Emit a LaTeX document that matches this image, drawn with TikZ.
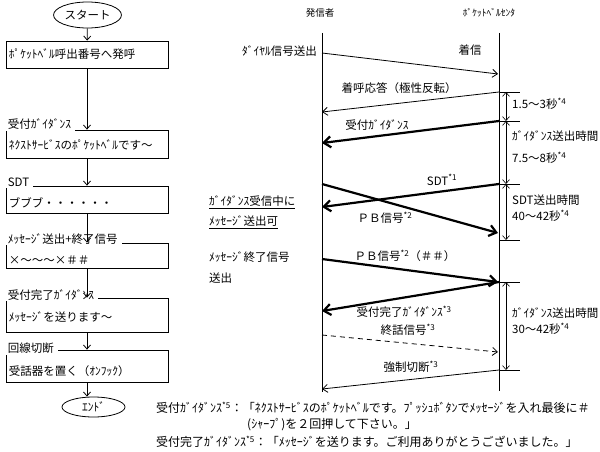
\documentclass[tikz,border=0pt]{standalone}
\usepackage{fontspec}
\setmainfont{Noto Sans CJK JP}
\usepackage{tikz}
\usetikzlibrary{arrows.meta,positioning,shapes.geometric,calc}

\newcommand{\fnref}[1]{\textsuperscript{*#1}}

\begin{document}
\begin{tikzpicture}[x=1pt, y=-1pt,
  every node/.style={font=\fontsize{11.5}{13}\selectfont, inner sep=1pt},
  fbox/.style={draw, line width=0.8pt, minimum width=162pt},
  ftitle/.style={anchor=west, fill=white, inner xsep=4pt, inner ysep=1.5pt},
  ftext/.style={anchor=west},
  ovalnode/.style={draw, ellipse, line width=0.8pt},
  flowarrow/.style={-{Straight Barb[length=4pt,width=7pt]}, line width=0.8pt},
  lifeline/.style={line width=0.8pt},
  msgthin/.style={-{Straight Barb[length=5pt,width=8pt]}, line width=0.8pt},
  msgthick/.style={-{Straight Barb[length=7pt,width=11pt]}, line width=2.2pt},
  tickline/.style={line width=0.8pt},
  spanarrow/.style={{Straight Barb[length=4pt,width=7pt]}-{Straight Barb[length=4pt,width=7pt]}, line width=0.6pt},
  notetext/.style={anchor=west, font=\fontsize{12}{14}\selectfont}]

\useasboundingbox (0,0) rectangle (600,452);

% --- Flowchart ---
\node[ovalnode, minimum width=61pt, minimum height=26pt] (start) at (87.5,15) {スタート};

\node[fbox, minimum height=27pt] (b1) at (87,54.5) {};
\node[ftext] (b1txt) at ([shift={(2,0)}]b1.west) {ﾎﾟｹｯﾄﾍﾞﾙ呼出番号へ発呼};

\node[fbox, minimum height=28pt] (b2) at (87,144) {};
\node[ftitle] (b2ttl) at ([shift={(-2,-5.5)}]b2.north west) {受付ｶﾞｲﾀﾞﾝｽ};
\node[ftext] (b2txt) at ([shift={(2,1)}]b2.west) {ﾈｸｽﾄｻｰﾋﾞｽのﾎﾟｹｯﾄﾍﾞﾙです～};

\node[fbox, minimum height=27pt] (b3) at (87,199.5) {};
\node[ftitle] (b3ttl) at ([shift={(-2,-3)}]b3.north west) {SDT};
\node[ftext] (b3txt) at ([shift={(2,3.5)}]b3.west) {ブブブ・・・・・・};

\node[fbox, minimum height=25pt] (b4) at (87,255.5) {};
\node[ftitle] (b4ttl) at ([shift={(-2,-4)}]b4.north west) {ﾒｯｾｰｼﾞ送出+終了信号};
\node[ftext] (b4txt) at ([shift={(2,4.5)}]b4.west) {×～～～×＃＃};

\node[fbox, minimum height=34pt] (b5) at (87,315) {};
\node[ftitle] (b5ttl) at ([shift={(-2,-3)}]b5.north west) {受付完了ｶﾞｲﾀﾞﾝｽ};
\node[ftext] (b5txt) at ([shift={(2,2)}]b5.west) {ﾒｯｾｰｼﾞを送ります～};

\node[fbox, minimum height=32pt] (b6) at (87,366) {};
\node[ftitle] (b6ttl) at ([shift={(-2,-1)}]b6.north west) {回線切断};
\node[ftext] (b6txt) at ([shift={(2,5)}]b6.west) {受話器を置く（ｵﾝﾌｯｸ）};

\node[ovalnode, minimum width=63pt, minimum height=20pt] (end) at (93.5,407) {ｴﾝﾄﾞ};

\draw[flowarrow] (start) -- (b1);
\draw[flowarrow] (b1) -- (b2);
\draw[flowarrow] (b2) -- (b3);
\draw[flowarrow] (b3) -- (b4);
\draw[flowarrow] (b4) -- (b5);
\draw[flowarrow] (b5) -- (b6);
\draw[flowarrow] (b6.south) -- (b6.south |- end.north);

% --- Sequence: lifelines ---
\node[font=\fontsize{9.5}{11}\selectfont] (caller) at (320,13) {発信者};
\node[font=\fontsize{9.5}{11}\selectfont] (centre) at (489,13) {ﾎﾟｹｯﾄﾍﾞﾙｾﾝﾀ};
\coordinate (L0) at (322,33);
\coordinate (L1) at (322,392);
\coordinate (R0) at (499,33);
\coordinate (R1) at (499,391);
\draw[lifeline] (L0) -- (L1);
\draw[lifeline] (R0) -- (R1);

% Timing marks on the centre side
\coordinate (t1) at (499,92);
\coordinate (t2) at (499,121);
\coordinate (t3) at (499,184);
\coordinate (t4) at (499,240);
\coordinate (t5) at (499,282);
\coordinate (t6) at (499,370);
\draw[tickline] (t1) -- ++(21,0);
\draw[tickline] (t2) -- ++(21,0);
\draw[tickline] (t3) -- ++(21,0);
\draw[tickline] (t4) -- ++(21,0);
\draw[tickline] (t5) -- ++(21,0);
\draw[tickline] (t6) -- ++(21,0);
\draw[spanarrow] ([xshift=7pt]t1) -- ([xshift=7pt]t2);
\draw[spanarrow] ([xshift=7pt]t2) -- ([xshift=7pt]t3);
\draw[spanarrow] ([xshift=7pt]t3) -- ([xshift=7pt]t4);
\draw[spanarrow] ([xshift=7pt]t5) -- ([xshift=7pt]t6);

\node[anchor=west] (d1) at (511,104) {1.5～3秒\fnref{4}};
\node[anchor=west] (d2a) at (511,136) {ｶﾞｲﾀﾞﾝｽ送出時間};
\node[anchor=west] (d2b) at (511,158) {7.5～8秒\fnref{4}};
\node[anchor=west] (d3a) at (511,200) {SDT送出時間};
\node[anchor=west] (d3b) at (511,216) {40～42秒\fnref{4}};
\node[anchor=west] (d4a) at (511,313) {ｶﾞｲﾀﾞﾝｽ送出時間};
\node[anchor=west] (d4b) at (511,329) {30～42秒\fnref{4}};

% --- Messages ---
\coordinate (a1) at (322,53);   \coordinate (a2) at (498,74);
\coordinate (b2m) at (322,112);
\coordinate (c2) at (322,143);
\coordinate (e2) at (322,207);
\coordinate (f1) at (322,184);  \coordinate (f2) at (498,233);
\coordinate (g1) at (322,259);  \coordinate (g2) at (498,282);
\coordinate (h2) at (322,311);
\coordinate (k1) at (322,335);  \coordinate (k2) at (498,352);
\coordinate (m2) at (322,389);

\node[anchor=east] (dial) at (318,51) {ﾀﾞｲﾔﾙ信号送出};
\node (incoming) at (470,50) {着信};
\draw[msgthin] (a1) -- (a2);

\node (answer) at (399,88) {着呼応答（極性反転）};
\draw[msgthin] (t1) -- (b2m);

\node (guide) at (377,125) {受付ｶﾞｲﾀﾞﾝｽ};
\draw[msgthick] (t2) -- (c2);

\node (sdt) at (442,180) {SDT\fnref{1}};
\draw[msgthick] (t3) -- (e2);
\node (pb) at (385,218) {ＰＢ信号\fnref{2}};
\draw[msgthick] (f1) -- (f2);

\node[anchor=west] (okmsg1) at (208,202) {\underline{ｶﾞｲﾀﾞﾝｽ受信中に}};
\node[anchor=west] (okmsg2) at (208,222) {\underline{ﾒｯｾｰｼﾞ送出可}};

\node[anchor=west] (endsig1) at (208,257) {ﾒｯｾｰｼﾞ終了信号};
\node[anchor=west] (endsig2) at (208,278) {送出};
\node (pbend) at (405,256) {ＰＢ信号\fnref{2}（＃＃）};
\draw[msgthick] (g1) -- (g2);

\node (done) at (404,312) {受付完了ｶﾞｲﾀﾞﾝｽ\fnref{3}};
\draw[msgthick] (t5) -- (h2);

\node (hangup) at (408,330) {終話信号\fnref{3}};
\draw[msgthin, dashed, dash pattern=on 5pt off 4pt] (k1) -- (k2);

\node (cut) at (411,367) {強制切断\fnref{3}};
\draw[msgthin] (t6) -- (m2);

% --- Notes ---
\node[notetext] (note1) at (155,408) {受付ｶﾞｲﾀﾞﾝｽ\fnref{5}：「ﾈｸｽﾄｻｰﾋﾞｽのﾎﾟｹｯﾄﾍﾞﾙです。ﾌﾟｯｼｭﾎﾞﾀﾝでﾒｯｾｰｼﾞを入れ最後に＃};
\node[notetext] (note2) at (246,425) {(ｼｬｰﾌﾟ)を２回押して下さい。」};
\node[notetext] (note3) at (155,442) {受付完了ｶﾞｲﾀﾞﾝｽ\fnref{5}：「ﾒｯｾｰｼﾞを送ります。ご利用ありがとうございました。」};

\end{tikzpicture}
\end{document}
